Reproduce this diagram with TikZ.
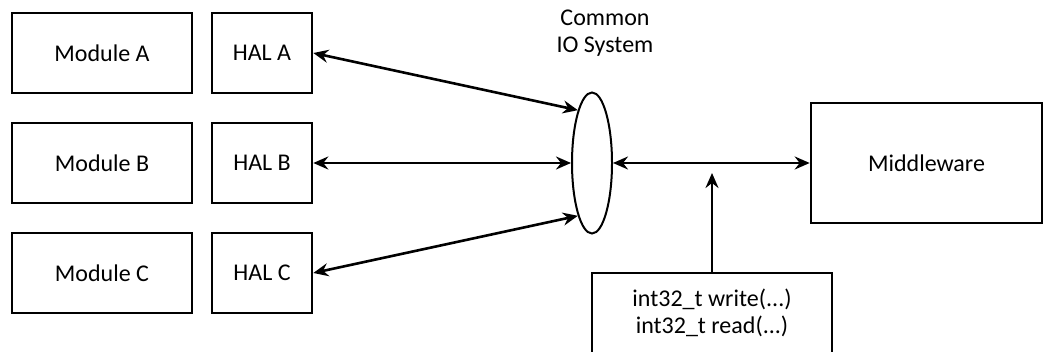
\documentclass[tikz,border=0pt]{standalone}
\usepackage{fontspec}
\setmainfont{Carlito}
\usetikzlibrary{shapes.geometric,arrows.meta}

\begin{document}
\begin{tikzpicture}[x=.5pt,y=-.5pt,font=\fontsize{12}{13.5}\selectfont,
  blk/.style={draw,line width=1.3pt,minimum height=40pt,inner sep=0pt},
  link/.style={line width=1.3pt,{Stealth[length=7.5pt,width=6.5pt,inset=2.5pt]}-{Stealth[length=7.5pt,width=6.5pt,inset=2.5pt]}},
  feed/.style={line width=1.3pt,-{Stealth[length=7.5pt,width=6.5pt,inset=2.5pt]}}]
\useasboundingbox (0,0) rectangle (1043,352);
% modules and their HALs
\foreach \m/\y in {A/53,B/163,C/273}{
  \node[blk,minimum width=90pt] (mod\m) at (102,\y) {Module \m};
  \node[blk,minimum width=50pt] (hal\m) at (262,\y) {HAL \m};
}
% io system
\node[ellipse,draw,line width=1pt,minimum width=20pt,minimum height=70.5pt,inner sep=0pt] (io) at (592,163) {};
\node[align=center] (iolbl) at (605,33) {Common\\IO System};
\node[blk,minimum width=115.5pt,minimum height=60pt] (mw) at (926.5,163) {Middleware};
\node[blk,minimum width=120pt,minimum height=41pt] (api) at (712,314) {};
\node[align=center] (apitxt) at (712,313) {int32\_t write(...)\\int32\_t read(...)};
\coordinate (tap) at (712,173);

\draw[link] (halA.east) -- (io.105);
\draw[link] (halB.east) -- (io.west);
\draw[link] (halC.east) -- (io.255);
\draw[link] (io.east) -- (mw.west);
\draw[feed] (api.north) -- (tap);
\end{tikzpicture}
\end{document}
